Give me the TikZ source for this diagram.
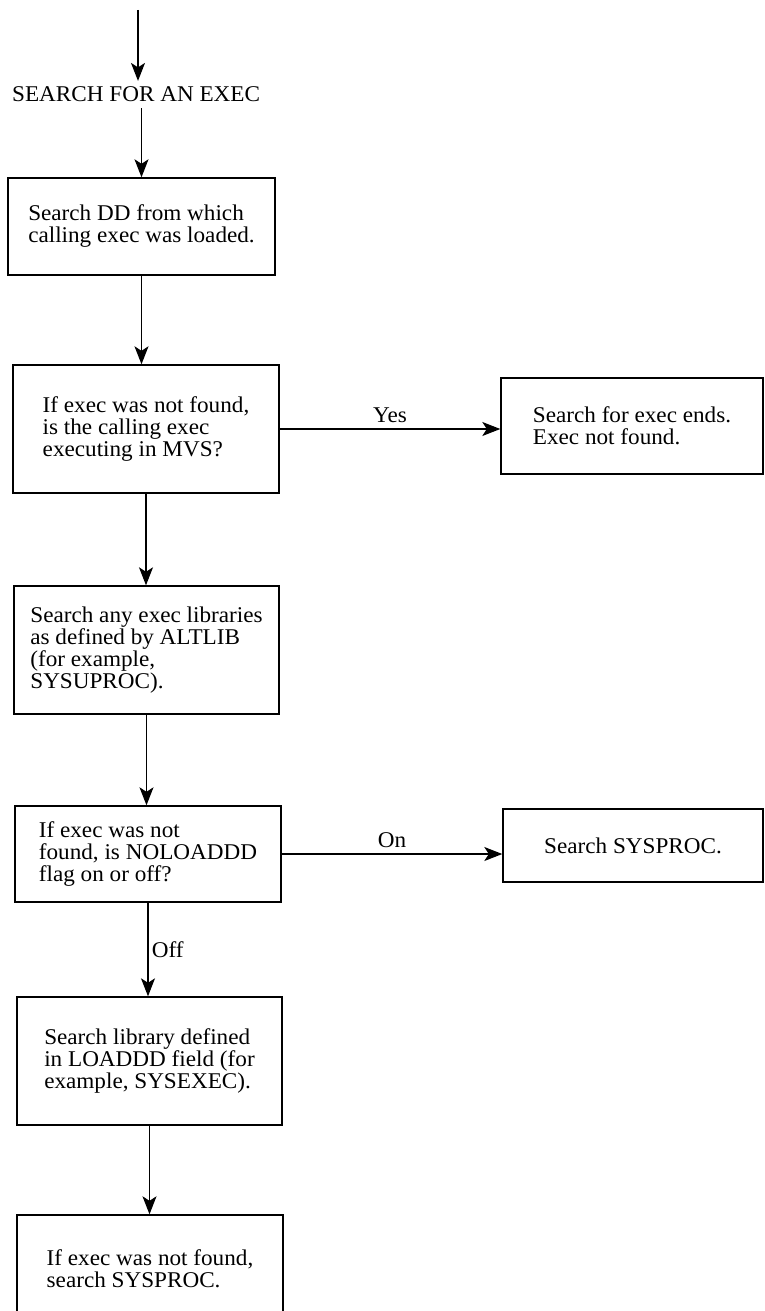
\documentclass[tikz,border=0pt]{standalone}
\usepackage{fontspec}
\setmainfont{Liberation Serif}[FakeStretch=1.03]
\usetikzlibrary{arrows.meta, positioning}

\begin{document}
\begin{tikzpicture}[x=1pt, y=-1pt,
  every node/.style={font=\fontsize{22.5}{22}\selectfont},
  procbox/.style={draw, line width=1.4pt, rectangle, align=left, inner sep=0pt},
  flow/.style={line width=1.2pt, -{Stealth[length=18pt, width=14pt, inset=4.5pt]}}]
  \useasboundingbox (0,0) rectangle (765,1311);

  % Entry and heading
  \coordinate (entry) at (138,10);
  \node[anchor=base west, inner sep=6pt] (title) at (6,102) {SEARCH FOR AN EXEC};

  % Main column of steps
  \node[procbox, minimum width=267pt, minimum height=97pt] (ddsearch) at (141.5,226.5)
    {Search DD from which\\calling exec was loaded.};
  \node[procbox, minimum width=266pt, minimum height=128pt] (mvscheck) at (146,429)
    {If exec was not found,\\is the calling exec\\executing in MVS?};
  \node[procbox, minimum width=265pt, minimum height=128pt] (altlib) at (146.5,650)
    {Search any exec libraries\\as defined by ALTLIB\\(for example,\\SYSUPROC).};
  \node[procbox, minimum width=266pt, minimum height=96pt] (loadcheck) at (148,854)
    {If exec was not\\found, is NOLOADDD\\flag on or off?};
  \node[procbox, minimum width=265pt, minimum height=128pt] (loaddd) at (149.5,1061)
    {Search library defined\\in LOADDD field (for\\example, SYSEXEC).};
  \node[procbox, minimum width=266pt, minimum height=108pt] (lastsearch) at (150,1269)
    {If exec was not found,\\search SYSPROC.};

  % Side branches
  \node[procbox, minimum width=262pt, minimum height=96pt] (notfound) at (632,426)
    {Search for exec ends.\\Exec not found.};
  \node[procbox, minimum width=260pt, minimum height=73pt] (sysproc) at (633,845.5)
    {Search SYSPROC.};

  % Connectors
  \draw[flow] (entry) -- (entry |- title.north);
  \draw[flow] (title.south -| ddsearch.north) -- (ddsearch.north);
  \draw[flow] (ddsearch.south) -- (ddsearch.south |- mvscheck.north);
  \draw[flow] (mvscheck.east) -- node[above=2pt] {Yes} (mvscheck.east -| notfound.west);
  \draw[flow] (mvscheck.south) -- (mvscheck.south |- altlib.north);
  \draw[flow] (altlib.south) -- (altlib.south |- loadcheck.north);
  \draw[flow] (loadcheck.east) -- node[above=2pt] {On} (loadcheck.east -| sysproc.west);
  \draw[flow] (loadcheck.south) -- node[right] {Off} (loadcheck.south |- loaddd.north);
  \draw[flow] (loaddd.south) -- (loaddd.south |- lastsearch.north);
\end{tikzpicture}
\end{document}
